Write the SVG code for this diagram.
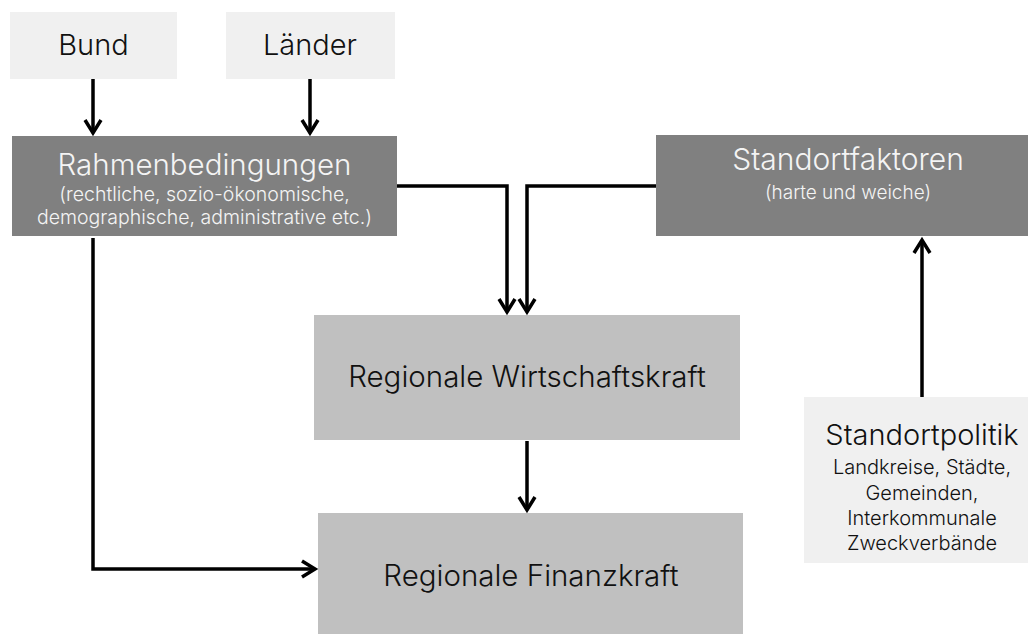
<svg xmlns="http://www.w3.org/2000/svg" width="1028" height="634" viewBox="0 0 1028 634">
<defs>
<style>
.light{fill:#f0f0f0}
.dark{fill:#808080}
.mid{fill:#c0c0c0}
text{font-family:Inter,"Liberation Sans",sans-serif;font-weight:300;text-anchor:middle}
.blk{fill:#111}
.wht{fill:#f4f4f4}
.conn{fill:none;stroke:#000;stroke-width:3.5;stroke-linejoin:miter}
</style>
<marker id="arr" viewBox="-16 -11 20 22" markerWidth="20" markerHeight="22" refX="0" refY="0" orient="auto" markerUnits="userSpaceOnUse">
<path d="M-13,-8 L0,0 L-13,8" fill="none" stroke="#000" stroke-width="3.5"/>
</marker>
</defs>
<rect width="1028" height="634" fill="#fff"/>
<g id="bund">
<rect class="light" x="10" y="12" width="167" height="67"/>
<text class="blk" x="93.5" y="55" font-size="29">Bund</text>
</g>
<g id="laender">
<rect class="light" x="226" y="12" width="169" height="67"/>
<text class="blk" x="310" y="55" font-size="29">Länder</text>
</g>
<g id="rahmen">
<rect class="dark" x="12" y="136" width="385" height="100"/>
<text class="wht" x="204.5" y="175" font-size="29.5">Rahmenbedingungen</text>
<text class="wht" x="204.5" y="201" font-size="19.5">(rechtliche, sozio-ökonomische,</text>
<text class="wht" x="204.5" y="224" font-size="19.5">demographische, administrative etc.)</text>
</g>
<g id="standortfaktoren">
<rect class="dark" x="656" y="135" width="372" height="101"/>
<text class="wht" x="848" y="170" font-size="30">Standortfaktoren</text>
<text class="wht" x="848" y="199" font-size="19">(harte und weiche)</text>
</g>
<g id="wirtschaftskraft">
<rect class="mid" x="314" y="315" width="426" height="125"/>
<text class="blk" x="527" y="387" font-size="29.5">Regionale Wirtschaftskraft</text>
</g>
<g id="finanzkraft">
<rect class="mid" x="318" y="513" width="425" height="121"/>
<text class="blk" x="531" y="586" font-size="29.5">Regionale Finanzkraft</text>
</g>
<g id="standortpolitik">
<rect class="light" x="804" y="397" width="224" height="166"/>
<text class="blk" x="922" y="445" font-size="29">Standortpolitik</text>
<text class="blk" x="922" y="474" font-size="20">Landkreise, Städte,</text>
<text class="blk" x="922" y="500" font-size="20">Gemeinden,</text>
<text class="blk" x="922" y="525" font-size="20">Interkommunale</text>
<text class="blk" x="922" y="550" font-size="20">Zweckverbände</text>
</g>
<g id="connectors">
<path class="conn" d="M93,79 V133" marker-end="url(#arr)"/>
<path class="conn" d="M310,79 V133" marker-end="url(#arr)"/>
<path class="conn" d="M397,186 H507 V312" marker-end="url(#arr)"/>
<path class="conn" d="M656,186 H527 V312" marker-end="url(#arr)"/>
<path class="conn" d="M93,238 V569 H315" marker-end="url(#arr)"/>
<path class="conn" d="M527,441 V510" marker-end="url(#arr)"/>
<path class="conn" d="M922,397 V240" marker-end="url(#arr)"/>
</g>
</svg>
